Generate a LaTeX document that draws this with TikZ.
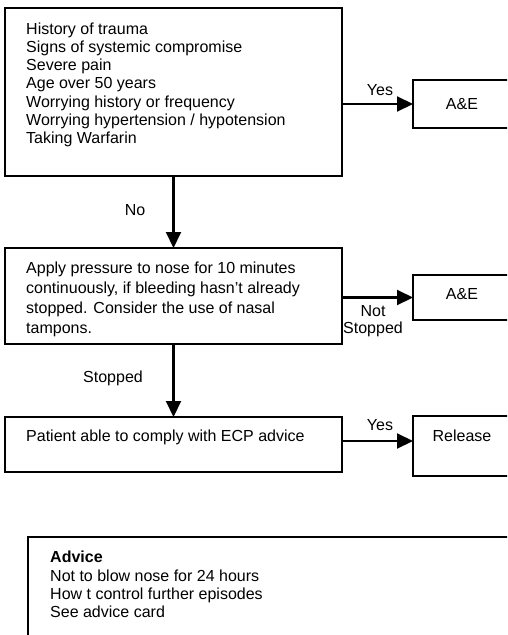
\documentclass[tikz,border=0pt]{standalone}
\usepackage{fontspec}
\setmainfont{Liberation Sans}
\usetikzlibrary{arrows.meta}

\begin{document}
\begin{tikzpicture}[x=1pt,y=1pt,
  box/.style={draw, line width=1.6pt, rectangle, anchor=north west, inner sep=0pt, outer sep=0pt},
  body/.style={anchor=north west, inner sep=0pt, align=left},
  lbl/.style={inner sep=0pt, align=center, font=\fontsize{16}{17}\selectfont},
  flow/.style={line width=2.1pt, -{Triangle[length=16pt,width=15pt]}}
]
\useasboundingbox (0,0) rectangle (507,-635);
\clip (0,0) rectangle (507,-635);
\fill[white] (0,0) rectangle (507,-635);

% boxes
\node[box, minimum width=337pt, minimum height=168pt] (b1) at (5,-8) {};
\node[box, minimum width=120pt, minimum height=48pt] (ae1) at (413,-80) {};
\node[box, minimum width=337pt, minimum height=96pt] (b2) at (5,-248) {};
\node[box, minimum width=120pt, minimum height=45pt] (ae2) at (413,-275) {};
\node[box, minimum width=337pt, minimum height=55pt] (b3) at (5,-417) {};
\node[box, minimum width=120pt, minimum height=60pt] (rel) at (413,-416) {};
\node[box, minimum width=520pt, minimum height=150pt] (adv) at (28,-537) {};

% box texts
\node[body, font=\fontsize{16}{18.2}\selectfont] (t1) at (26,-22.5) {History of trauma\\
Signs of systemic compromise\\
Severe pain\\
Age over 50 years\\
Worrying history or frequency\\
Worrying hypertension / hypotension\\
Taking Warfarin};
\node[body, font=\fontsize{16}{20}\selectfont] (t2) at (26,-261.5) {Apply pressure to nose for 10 minutes\\
continuously, if bleeding hasn’t already\\
stopped. Consider the use of nasal\\
tampons.};
\node[inner sep=0pt, anchor=west, font=\fontsize{16}{18}\selectfont] (t3) at (26,-437) {Patient able to comply with ECP advice};
\node[body, font=\fontsize{16}{18.3}\selectfont] (t4) at (50,-551) {\textbf{Advice}\\
Not to blow nose for 24 hours\\
How t control further episodes\\
See advice card};

\node[lbl] (ae1t) at (462,-104) {A\&E};
\node[lbl] (ae2t) at (462,-294) {A\&E};
\node[lbl] (relt) at (462,-436) {Release};

% connectors
\draw[flow] (b1.east |- ae1.west) -- (ae1.west);
\draw[flow] (b1.south) -- (b2.north);
\draw[flow] (b2.east |- ae2.west) -- (ae2.west);
\draw[flow] (b2.south) -- (b3.north);
\coordinate (y3) at ([yshift=3.5pt]b3.east);
\draw[flow] (y3) -- (y3 -| rel.west);

% connector labels
\node[lbl] (l1) at (380,-90) {Yes};
\node[lbl] (l2) at (135,-210) {No};
\node[lbl] (l3) at (373,-321) {Not\\Stopped};
\node[lbl] (l4) at (113,-378) {Stopped};
\node[lbl] (l5) at (380,-425) {Yes};
\end{tikzpicture}
\end{document}
